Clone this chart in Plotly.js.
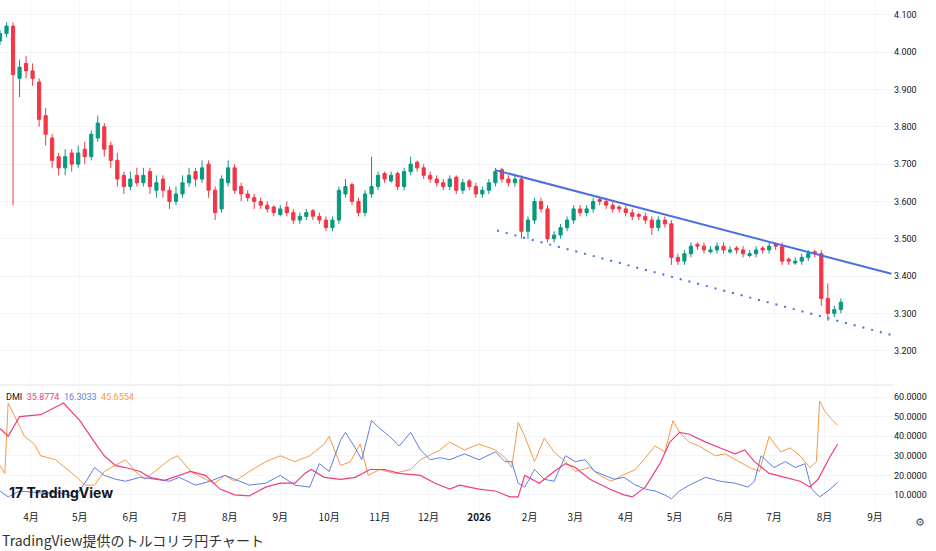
<!DOCTYPE html>
<html>
<head>
<meta charset="utf-8">
<script src="https://cdn.plot.ly/plotly-3.0.1.min.js"></script>
<style>
  body { margin: 0; background: #fff; font-family: "Noto Sans CJK JP", "Noto Sans", sans-serif; }
  #chart { width: 936px; height: 530px; }
  #caption { font-size: 14px; color: #333; padding-left: 2px; line-height: 20px; }
</style>
</head>
<body>
<div id="chart"></div>
<div id="caption">TradingView提供のトルコリラ円チャート</div>
<script>
// Day 0 = 2025-03-13; one candle every 4 days
const START = [2025, 2, 13];
const candleDay = [];
for (let i = 0; i < 130; i++) candleDay.push(i * 4);

const open = [4.03,4.05,4.07,3.93,3.97,3.95,3.92,3.83,3.77,3.72, 3.69,3.73,3.70,3.74,3.72,3.77,3.80,3.75,3.71,3.67,
  3.64,3.67,3.65,3.68,3.63,3.66,3.63,3.60,3.62,3.65, 3.68,3.66,3.70,3.63,3.58,3.65,3.69,3.64,3.62,3.61,
  3.60,3.59,3.585,3.565,3.585,3.57,3.55,3.56,3.575,3.56, 3.55,3.53,3.55,3.62,3.645,3.60,3.57,3.62,3.64,3.675,
  3.655,3.675,3.64,3.68,3.705,3.69,3.67,3.66,3.65,3.64, 3.665,3.63,3.655,3.64,3.62,3.63,3.65,3.685,3.66,3.65,
  3.66,3.52,3.55,3.60,3.58,3.50,3.51,3.53,3.55,3.58, 3.57,3.58,3.605,3.60,3.59,3.585,3.58,3.57,3.565,3.56,
  3.55,3.53,3.55,3.54,3.45,3.44,3.46,3.485,3.48,3.465, 3.47,3.48,3.465,3.475,3.47,3.455,3.46,3.475,3.47,3.485,
  3.48,3.445,3.435,3.44,3.45,3.465,3.46,3.34,3.30,3.31];
const high = [4.06,4.08,4.08,3.98,3.99,3.97,3.93,3.85,3.78,3.73, 3.74,3.74,3.75,3.76,3.79,3.83,3.81,3.76,3.73,3.68,
  3.68,3.69,3.69,3.69,3.67,3.67,3.64,3.64,3.67,3.69, 3.69,3.71,3.71,3.64,3.67,3.71,3.70,3.65,3.63,3.62,
  3.61,3.60,3.59,3.59,3.60,3.58,3.57,3.58,3.58,3.57, 3.56,3.56,3.64,3.66,3.65,3.61,3.63,3.72,3.68,3.68,
  3.68,3.68,3.69,3.72,3.71,3.70,3.68,3.67,3.66,3.67, 3.67,3.66,3.66,3.65,3.64,3.66,3.69,3.69,3.67,3.67,
  3.67,3.56,3.61,3.61,3.59,3.52,3.54,3.56,3.59,3.59, 3.59,3.61,3.61,3.61,3.60,3.59,3.59,3.58,3.57,3.57,
  3.56,3.56,3.56,3.55,3.46,3.47,3.49,3.49,3.49,3.48, 3.49,3.49,3.48,3.48,3.48,3.47,3.48,3.48,3.49,3.49,
  3.49,3.45,3.45,3.46,3.47,3.47,3.47,3.38,3.32,3.34];
const low = [4.02,4.04,3.59,3.88,3.93,3.91,3.80,3.75,3.69,3.67, 3.67,3.68,3.69,3.70,3.71,3.76,3.72,3.69,3.64,3.62,
  3.63,3.64,3.64,3.62,3.61,3.61,3.58,3.59,3.61,3.64, 3.64,3.65,3.61,3.55,3.57,3.64,3.62,3.60,3.60,3.58,
  3.58,3.57,3.56,3.56,3.56,3.54,3.54,3.55,3.55,3.54, 3.52,3.52,3.54,3.61,3.59,3.56,3.56,3.61,3.63,3.65,
  3.65,3.63,3.63,3.67,3.68,3.66,3.65,3.64,3.63,3.63, 3.62,3.62,3.63,3.61,3.61,3.62,3.64,3.65,3.64,3.64,
  3.50,3.50,3.54,3.57,3.49,3.49,3.50,3.52,3.54,3.56, 3.56,3.57,3.59,3.58,3.57,3.57,3.56,3.55,3.55,3.54,
  3.51,3.52,3.53,3.43,3.43,3.43,3.45,3.47,3.46,3.46, 3.46,3.46,3.46,3.46,3.45,3.45,3.45,3.46,3.46,3.47,
  3.43,3.43,3.43,3.43,3.44,3.45,3.32,3.28,3.29,3.30];
const close = [4.05,4.07,3.94,3.96,3.95,3.93,3.82,3.78,3.71,3.69, 3.72,3.70,3.73,3.72,3.78,3.81,3.74,3.71,3.66,3.64,
  3.66,3.65,3.67,3.64,3.65,3.63,3.60,3.62,3.65,3.67, 3.66,3.69,3.63,3.57,3.66,3.69,3.63,3.62,3.61,3.60,
  3.59,3.58,3.57,3.58,3.57,3.55,3.56,3.57,3.56,3.55, 3.53,3.55,3.63,3.64,3.60,3.57,3.62,3.64,3.67,3.66,
  3.67,3.64,3.68,3.70,3.69,3.67,3.66,3.65,3.64,3.66, 3.63,3.65,3.64,3.62,3.63,3.65,3.68,3.66,3.65,3.66,
  3.52,3.55,3.60,3.58,3.50,3.51,3.53,3.55,3.58,3.57, 3.58,3.60,3.60,3.59,3.58,3.58,3.57,3.56,3.56,3.55,
  3.53,3.55,3.54,3.45,3.44,3.46,3.48,3.48,3.47,3.47, 3.48,3.47,3.47,3.47,3.46,3.46,3.47,3.47,3.48,3.48,
  3.44,3.44,3.44,3.45,3.46,3.46,3.34,3.30,3.31,3.33];

// DMI components (day offsets + values)
const adxDay = [0,5,12,25,39,49,58,64,71,77,86,92,101,110,117,126,135,144,153,163,172,181,187,191,199,209,218,227,236,245,258,267,276,282,294,304,313,318,322,331,340,347,353,362,374,383,388,396,405,411,417,423,433,442,451,457,463,472,482,491,497,502,509,514];
const adx = [44,40,50,51,57,48,37,30,25,24,22,19,17.5,20,22,20,13,10,9.5,14,16,16,21,23,19,18,19,23,23,21,20,16,13,15,13,12,9,9,20,16,22,26,24,18,13,10,9,14,26,37,42,41,37,34,31,33,27,21,19,17,14,18,29,35.8774];
const diPlusDay = [0,5,12,25,37,46,52,58,64,71,77,86,95,104,110,120,129,138,144,153,163,172,181,190,196,202,209,212,218,222,228,233,239,245,252,258,264,270,276,285,294,304,310,314,318,322,328,334,340,347,353,359,365,371,377,383,390,396,402,408,412,417,423,433,442,451,459,463,467,475,482,488,494,498,503,508,514];
const diPlus = [12,9,12,11,11,9,16,24,20,18,17,19,18,17,19,15,17,20,18,15,16,20,15,14,26,22,38,42,34,28,48,44,40,35,42,33,28,29,28,31,28,32,27,27,16,14,23,18,17,30,27,28,22,20,18,19,15,13,12,10,8,12,15,19,17,16,14,17,30,24,27,24,26,13,9,12,16.3033];
const diMinusDay = [0,3,5,9,15,21,25,34,40,46,52,58,64,71,77,83,89,95,104,109,117,126,132,138,144,153,163,172,181,190,199,202,209,215,221,226,233,242,252,258,270,276,285,294,304,310,314,318,322,328,334,340,347,353,362,368,375,382,390,396,402,408,413,417,423,429,439,445,454,460,466,472,479,485,491,497,501,503,506,510,514];
const diMinus = [25,21,57,50,40,36,30,28,24,20,15,15,22,25,28,22,18,22,28,30,22,18,16,20,17,22,27,30,27,30,36,40,25,27,36,20,23,21,23,28,33,37,33,36,33,29,24,47,40,27,39,32,27,22,24,20,17,20,23,29,35,32,48,42,37,35,30,31,27,24,22,40,32,34,30,24,27,58,53,49,45.6554];

// Trend channel: [day, price]
const upperDay = [304, 547], upperPrice = [3.684, 3.406];
const lowerDay = [305, 547], lowerPrice = [3.522, 3.242];

const monthDays = [19,49,80,110,141,172,202,233,263,294,325,353,384,414,445,475,506,537];
const monthText = ["4月","5月","6月","7月","8月","9月","10月","11月","12月","<b>2026</b>","2月","3月","4月","5月","6月","7月","8月","9月"];

function toDate(d) {
  const t = new Date(Date.UTC(START[0], START[1], START[2] + d));
  return t.toISOString().slice(0, 10);
}
const dates = (arr) => arr.map(toDate);

const ADX_COLOR = "#ee3f7a", PLUS_COLOR = "#5b80e6", MINUS_COLOR = "#f79a45";
const TEXT = "#131722", GRID = "#f3f5f9";

const traces = [
  {
    type: "candlestick", x: dates(candleDay), open: open, high: high, low: low, close: close,
    increasing: { line: { color: "#089981", width: 1 }, fillcolor: "#089981" },
    decreasing: { line: { color: "#f23645", width: 1 }, fillcolor: "#f23645" },
    whiskerwidth: 0, xaxis: "x", yaxis: "y", hoverinfo: "skip",
  },
  { type: "scatter", mode: "lines", x: dates(upperDay), y: upperPrice, line: { color: "#4a6fe3", width: 2 }, xaxis: "x", yaxis: "y" },
  { type: "scatter", mode: "lines", x: dates(lowerDay), y: lowerPrice, line: { color: "#4a6fe3", width: 2, dash: "2px,7px" }, xaxis: "x", yaxis: "y" },
  { type: "scatter", mode: "lines", x: dates(diMinusDay), y: diMinus, line: { color: MINUS_COLOR, width: 1 }, xaxis: "x2", yaxis: "y2" },
  { type: "scatter", mode: "lines", x: dates(diPlusDay), y: diPlus, line: { color: PLUS_COLOR, width: 1 }, xaxis: "x2", yaxis: "y2" },
  { type: "scatter", mode: "lines", x: dates(adxDay), y: adx, line: { color: ADX_COLOR, width: 1.2 }, xaxis: "x2", yaxis: "y2" },
];

const xRange = [toDate(0), toDate(548)];
const xBase = {
  type: "date", range: xRange, tickvals: dates(monthDays), ticktext: monthText,
  showgrid: true, gridcolor: GRID, zeroline: false, showline: false, ticks: "",
  tickfont: { family: "Noto Sans CJK JP, sans-serif", size: 10, color: TEXT },
};

const layout = {
  width: 936, height: 530,
  margin: { l: 0, r: 43, t: 0, b: 20 },
  paper_bgcolor: "#fff", plot_bgcolor: "#fff",
  showlegend: false,
  xaxis: Object.assign({}, xBase, { anchor: "y", showticklabels: false, rangeslider: { visible: false } }),
  xaxis2: Object.assign({}, xBase, { anchor: "y2", matches: "x" }),
  yaxis: {
    domain: [0.251, 1], range: [3.116, 4.14], side: "right", tickvals: [3.2,3.3,3.4,3.5,3.6,3.7,3.8,3.9,4.0,4.1],
    tickformat: ".3f", showgrid: true, gridcolor: GRID, zeroline: false, ticks: "",
    tickfont: { family: "Roboto, sans-serif", size: 9, color: TEXT },
  },
  yaxis2: {
    domain: [0, 0.239], range: [2.3, 64.6], side: "right", tickvals: [10,20,30,40,50,60],
    tickformat: ".4f", showgrid: true, gridcolor: GRID, zeroline: false, ticks: "",
    tickfont: { family: "Roboto, sans-serif", size: 9, color: TEXT },
  },
  shapes: [
    { type: "line", xref: "paper", yref: "paper", x0: 0, x1: 1, y0: 0.245, y1: 0.245, line: { color: "#e0e3eb", width: 1 } },
  ],
  annotations: [
    { xref: "paper", yref: "paper", x: 0.004, y: 0.236, xanchor: "left", yanchor: "top", showarrow: false,
      font: { family: "Roboto, sans-serif", size: 9, color: TEXT },
      text: "DMI  <span style='color:" + ADX_COLOR + "'>35.8774</span>  <span style='color:" + PLUS_COLOR + "'>16.3033</span>  <span style='color:" + MINUS_COLOR + "'>45.6554</span>" },
    { xref: "paper", yref: "paper", x: 0.008, y: 0.035, xanchor: "left", yanchor: "middle", showarrow: false,
      font: { family: "Inter, Roboto, sans-serif", size: 14, color: "#131722" }, text: "<b>17 TradingView</b>" },
    { xref: "paper", yref: "paper", x: 1.03, y: -0.025, xanchor: "center", yanchor: "middle", showarrow: false,
      font: { family: "DejaVu Sans", size: 11, color: "#555" }, text: "⚙" },
  ],
};

Plotly.newPlot("chart", traces, layout, { staticPlot: true, displayModeBar: false });
</script>
</body>
</html>
